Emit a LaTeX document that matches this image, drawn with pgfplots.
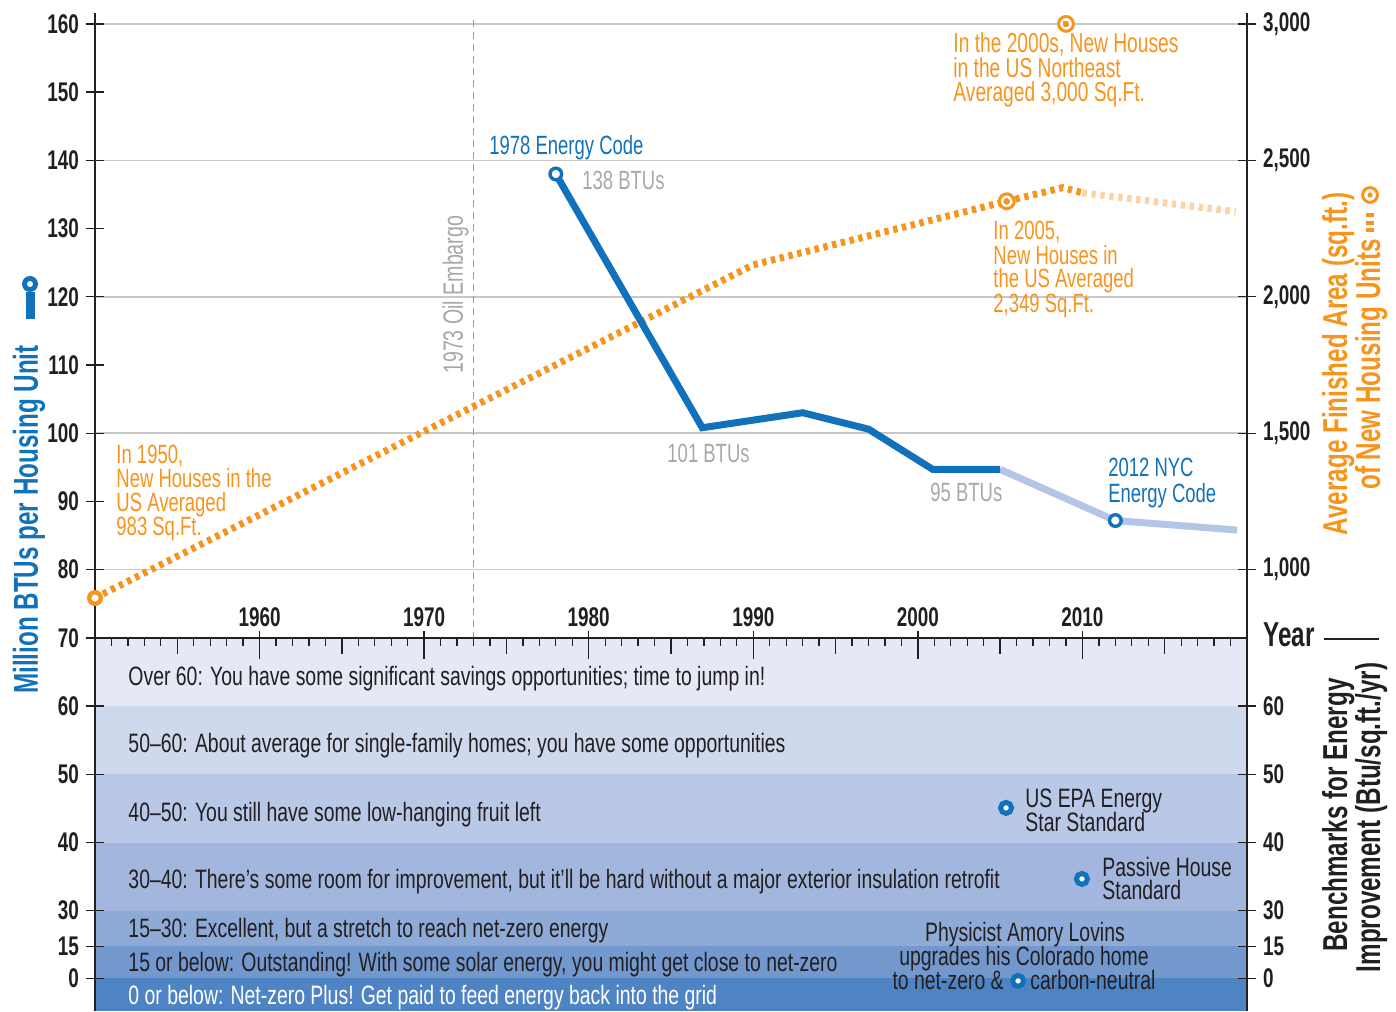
\documentclass[border=0pt]{standalone}
\usepackage{pgfplots}
\pgfplotsset{compat=1.18}
\usepackage{fontspec}
\setmainfont{Liberation Sans}[FakeStretch=0.70]
\newfontfamily\bandfont{Liberation Sans}[FakeStretch=0.73]
\definecolor{cblue}{HTML}{1271BB}
\definecolor{clblue}{HTML}{B5C5E7}
\definecolor{corange}{HTML}{F7941D}
\definecolor{clorange}{HTML}{FDD3A5}
\definecolor{cgray}{HTML}{A6A8AB}
\definecolor{cgrid}{HTML}{C8C8C8}
\definecolor{cdark}{HTML}{231F20}
\definecolor{cdash}{HTML}{9A9A9A}
\definecolor{bA}{HTML}{E4E9F5}
\definecolor{bB}{HTML}{CFD9EE}
\definecolor{bC}{HTML}{B8C8E6}
\definecolor{bD}{HTML}{A3B7DE}
\definecolor{bE}{HTML}{8EAAD7}
\definecolor{bF}{HTML}{7398CE}
\definecolor{bG}{HTML}{4F84C4}
\newcommand{\ft}{\fontsize{13.2pt}{15pt}\selectfont}
\newcommand{\fbd}{\bandfont\fontsize{13.3pt}{15pt}\selectfont}
\newcommand{\fb}{\fontsize{13.5pt}{15pt}\selectfont\bfseries}
\newcommand{\ftt}{\fontsize{17.3pt}{18pt}\selectfont\bfseries}
\tikzset{ann/.style={anchor=base west, inner sep=0pt, font=\ft},
  bnd/.style={anchor=base west, inner sep=0pt, font=\fbd},
  tk/.style={cdark, line width=0.65pt}}
\begin{document}
\begin{tikzpicture}
\path[use as bounding box] (-47.5pt,0pt) rectangle (650.5pt,505.5pt);
\begin{axis}[
  at={(0pt,0pt)}, anchor=south west,
  scale only axis, width=576pt, height=499pt,
  xmin=1950, xmax=2020, ymin=-54.7, ymax=91.6,
  clip=false, axis on top,
  axis x line=middle, axis y line=left,
  axis line style={-, line width=1pt, color=cdark},
  every inner x axis line/.append style={-},
  every outer y axis line/.append style={-},
  hide obscured x ticks=false, hide obscured y ticks=false,
  xtick={1960,1970,1980,1990,2000,2010},
  xticklabels={1960,1970,1980,1990,2000,2010},
  xtick style={draw=none},
  xticklabel style={font=\fb, text=cdark, anchor=base, yshift=10pt},
  ytick={90,80,70,60,50,40,30,20,10,0,-10,-20,-30,-40,-45.2,-49.9},
  yticklabels={160,150,140,130,120,110,100,90,80,70,60,50,40,30,15,0},
  ytick align=center, major tick length=9pt,
  ytick style={line width=0.65pt, color=cdark},
  yticklabel style={font=\fb, text=cdark},
]
% benchmark bands
\addplot[draw=none, fill=bA] coordinates {(1950,0) (2020,0) (2020,-10) (1950,-10)};
\addplot[draw=none, fill=bB] coordinates {(1950,-10) (2020,-10) (2020,-20) (1950,-20)};
\addplot[draw=none, fill=bC] coordinates {(1950,-20) (2020,-20) (2020,-30) (1950,-30)};
\addplot[draw=none, fill=bD] coordinates {(1950,-30) (2020,-30) (2020,-40) (1950,-40)};
\addplot[draw=none, fill=bE] coordinates {(1950,-40) (2020,-40) (2020,-45.2) (1950,-45.2)};
\addplot[draw=none, fill=bF] coordinates {(1950,-45.2) (2020,-45.2) (2020,-49.9) (1950,-49.9)};
\addplot[draw=none, fill=bG] coordinates {(1950,-49.9) (2020,-49.9) (2020,-54.7) (1950,-54.7)};
% grid lines
\pgfplotsinvokeforeach{90,70,50,30,10}{\draw[cgrid, line width=0.8pt] (axis cs:1950,#1) -- (axis cs:2020,#1);}
% x ticks
\pgfplotsinvokeforeach{1951,...,2019}{\draw[tk] (axis cs:#1,0) -- ++(0pt,-4pt);}
\pgfplotsinvokeforeach{1955,1965,...,2015}{\draw[tk] (axis cs:#1,0) -- ++(0pt,-8pt);}
\pgfplotsinvokeforeach{1960,1970,...,2010}{\draw[tk] (axis cs:#1,0) ++(0pt,3.5pt) -- ++(0pt,-14pt);}
% 1973 oil embargo
\draw[cdash, line width=0.65pt, dash pattern=on 3.5pt off 2.5pt] (axis cs:1973,90.5) -- (axis cs:1973,0);
\node[rotate=90, anchor=base, inner sep=0pt, font=\fontsize{14pt}{16pt}\selectfont, text=cgray] at (axis cs:1972.36,50.29) {1973 Oil Embargo};
% orange: average finished area (sq.ft.)
\addplot[corange, line width=3.5pt, dash pattern=on 2.2pt off 2.3pt] table[row sep=\\, y expr=\thisrow{sqft}/25-30]{
year sqft\\ 1950 896\\ 1990 2117\\ 2005.4 2350\\ 2008.8 2400\\ 2010 2381\\};
\addplot[clorange, line width=3.5pt, dash pattern=on 2.2pt off 2.3pt] table[row sep=\\, y expr=\thisrow{sqft}/25-30]{
year sqft\\ 2010 2381\\ 2019.3 2312\\};
% blue: million BTUs per housing unit
\addplot[clblue, line width=3.5pt] table[row sep=\\, y expr=\thisrow{btu}-70]{
year btu\\ 2005.0 94.7\\ 2012.0 87.2\\ 2019.4 85.8\\};
\addplot[cblue, line width=3.5pt] table[row sep=\\, y expr=\thisrow{btu}-70]{
year btu\\ 1978 138\\ 1986.9 100.8\\ 1993.0 103.0\\ 1997.0 100.6\\ 2000.9 94.7\\ 2005.0 94.7\\};
% markers
\addplot[only marks, mark=*, mark size=2.9pt, mark options={draw=corange, fill=white, line width=2.2pt}] table[row sep=\\, y expr=\thisrow{sqft}/25-30]{year sqft\\ 1950 896\\};
\addplot[only marks, mark=*, mark size=3.7pt, mark options={draw=corange, fill=white, line width=1.5pt}] table[row sep=\\, y expr=\thisrow{sqft}/25-30]{year sqft\\ 2005.4 2350\\ 2009.0 3000\\};
\addplot[only marks, color=corange, mark=*, mark size=1.4pt, mark options={draw=corange, fill=corange, line width=0pt}] table[row sep=\\, y expr=\thisrow{sqft}/25-30]{year sqft\\ 2005.4 2350\\ 2009.0 3000\\};
\addplot[only marks, mark=*, mark size=2.9pt, mark options={draw=cblue, fill=white, line width=1.7pt}] table[row sep=\\, y expr=\thisrow{btu}-70]{year btu\\ 1978 138\\ 2012.0 87.2\\};
\addplot[only marks, mark=*, mark size=2.75pt, mark options={draw=cblue, fill=white, line width=2.5pt}] coordinates {(2005.36,-24.93) (2009.97,-35.34) (2006.09,-50.29)};
% annotations
\node[ann, text=cblue] at (axis cs:1973.94,70.82) {1978 Energy Code};
\node[ann, text=cgray] at (axis cs:1979.59,65.69) {138 BTUs};
\node[ann, text=cgray] at (axis cs:1984.76,25.66) {101 BTUs};
\node[ann, text=cgray] at (axis cs:2000.74,19.94) {95 BTUs};
\node[ann, text=cblue] at (axis cs:2011.55,23.61) {2012 NYC};
\node[ann, text=cblue] at (axis cs:2011.55,19.79) {Energy Code};
\node[ann, text=corange] at (axis cs:2004.57,58.36) {In 2005,};
\node[ann, text=corange] at (axis cs:2004.57,54.69) {New Houses in};
\node[ann, text=corange] at (axis cs:2004.57,51.32) {the US Averaged};
\node[ann, text=corange] at (axis cs:2004.57,47.65) {2,349 Sq.Ft.};
\node[ann, text=corange, font=\fontsize{13.7pt}{15pt}\selectfont] at (axis cs:2002.14,85.78) {In the 2000s, New Houses};
\node[ann, text=corange, font=\fontsize{13.7pt}{15pt}\selectfont] at (axis cs:2002.14,82.11) {in the US Northeast};
\node[ann, text=corange, font=\fontsize{13.7pt}{15pt}\selectfont] at (axis cs:2002.14,78.59) {Averaged 3,000 Sq.Ft.};
\node[ann, text=corange] at (axis cs:1951.28,25.51) {In 1950,};
\node[ann, text=corange] at (axis cs:1951.28,21.99) {New Houses in the};
\node[ann, text=corange] at (axis cs:1951.28,18.48) {US Averaged};
\node[ann, text=corange] at (axis cs:1951.28,14.96) {983 Sq.Ft.};
% band texts
\node[bnd, text=cdark] at (axis cs:1952.01,-7.04) {Over 60: You have some significant savings opportunities; time to jump in!};
\node[bnd, text=cdark] at (axis cs:1952.01,-16.86) {50–60: About average for single-family homes; you have some opportunities};
\node[bnd, text=cdark] at (axis cs:1952.01,-26.98) {40–50: You still have some low-hanging fruit left};
\node[bnd, text=cdark] at (axis cs:1952.01,-36.80) {30–40: There’s some room for improvement, but it’ll be hard without a major exterior insulation retrofit};
\node[bnd, text=cdark] at (axis cs:1952.01,-43.99) {15–30: Excellent, but a stretch to reach net-zero energy};
\node[bnd, text=cdark] at (axis cs:1952.01,-48.97) {15 or below: Outstanding! With some solar energy, you might get close to net-zero};
\node[bnd, text=white] at (axis cs:1952.01,-53.81) {0 or below: Net-zero Plus! Get paid to feed energy back into the grid};
\node[bnd, text=cdark] at (axis cs:2006.51,-24.93) {US EPA Energy};
\node[bnd, text=cdark] at (axis cs:2006.51,-28.45) {Star Standard};
\node[bnd, text=cdark] at (axis cs:2011.19,-35.04) {Passive House};
\node[bnd, text=cdark] at (axis cs:2011.19,-38.42) {Standard};
\node[bnd, anchor=base, text=cdark] at (axis cs:2006.51,-44.57) {Physicist Amory Lovins};
\node[bnd, anchor=base, text=cdark] at (axis cs:2006.45,-48.09) {upgrades his Colorado home};
\node[bnd, anchor=base east, text=cdark] at (axis cs:2005.24,-51.61) {to net-zero \&};
\node[bnd, text=cdark] at (axis cs:2006.81,-51.61) {carbon-neutral};
\end{axis}
\begin{axis}[
  at={(0pt,0pt)}, anchor=south west,
  scale only axis, width=576pt, height=499pt,
  xmin=1950, xmax=2020, ymin=-54.7, ymax=91.6,
  axis x line=none, axis y line=right,
  axis line style={-, line width=1pt, color=cdark},
  every outer y axis line/.append style={-},
  ytick={90,70,50,30,10,-10,-20,-30,-40,-45.2,-49.9},
  yticklabels={{3,000},{2,500},{2,000},{1,500},{1,000},60,50,40,30,15,0},
  ytick align=center, major tick length=9pt,
  ytick style={line width=0.65pt, color=cdark},
  yticklabel style={font=\fb, text=cdark},
]
\addplot[draw=none] coordinates {(1950,0)};
\end{axis}
% outer titles
\node[rotate=90, anchor=base, inner sep=0pt, font=\ftt, text=cblue] at (-28.5pt,245.75pt) {Million BTUs per Housing Unit};
\fill[cblue] (-34.5pt,346pt) rectangle (-30pt,359.5pt);
\fill[cblue] (-32.5pt,363.5pt) circle (4pt);
\fill[white] (-32.5pt,363.5pt) circle (1.5pt);
\node[rotate=90, anchor=base, inner sep=0pt, font=\ftt, text=corange] at (626pt,323.5pt) {Average Finished Area (sq.ft.)};
\node[rotate=90, anchor=base west, inner sep=0pt, font=\ftt, text=corange] at (642.5pt,260.5pt) {of New Housing Units};
\fill[corange] (635.3pt,389.5pt) rectangle ++(4.4pt,2pt);
\fill[corange] (635.3pt,393.2pt) rectangle ++(4.4pt,2pt);
\fill[corange] (635.3pt,396.9pt) rectangle ++(4.4pt,2pt);
\draw[corange, line width=1.5pt, fill=white] (637.5pt,408pt) circle (3.7pt);
\fill[corange] (637.5pt,408pt) circle (1.3pt);
\node[rotate=90, anchor=base, inner sep=0pt, font=\ftt, text=cdark] at (626pt,98pt) {Benchmarks for Energy};
\node[rotate=90, anchor=base, inner sep=0pt, font=\ftt, text=cdark] at (642.5pt,96.75pt) {Improvement (Btu/sq.ft./yr)};
\node[anchor=base west, inner sep=0pt, font=\ftt, text=cdark] at (584pt,182pt) {Year};
\draw[cdark, line width=0.8pt] (614.5pt,186pt) -- (642pt,186pt);
\end{tikzpicture}
\end{document}
